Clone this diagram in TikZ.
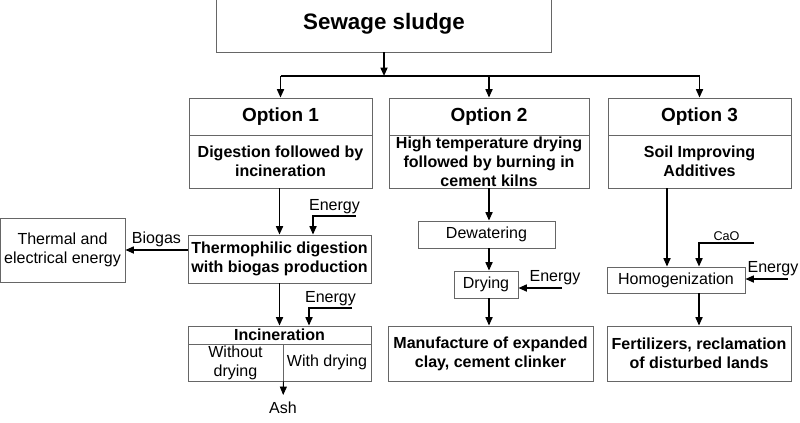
\documentclass[tikz,border=0pt]{standalone}
\usepackage{fontspec}
\setmainfont{Liberation Sans}
\usetikzlibrary{arrows.meta}

\begin{document}
\begin{tikzpicture}[
  x=0.025cm, y=-0.025cm,
  box/.style={draw=black!60, line width=0.6pt, inner sep=1pt, align=center, font=\fontsize{11.4}{13.5}\selectfont},
  bold box/.style={box, font=\fontsize{11.4}{13.5}\selectfont\bfseries},
  flow/.style={-{Triangle[length=6pt,width=5pt]}, line width=1.1pt},
  ]
  \tikzset{%
    tag/.style={
      inner sep=1pt,
      font=\fontsize{11.4}{13.5}\selectfont,
    },
  }
  \useasboundingbox (0,0) rectangle (800,422);
  %Nodes
  \node[bold box, minimum width=8.375cm, minimum height=1.425cm, font=\fontsize{15.9}{18}\selectfont\bfseries](sludge) at (384,23.5) {Sewage sludge};
  \node[bold box, minimum width=4.575cm, minimum height=0.925cm, font=\fontsize{13.5}{15}\selectfont\bfseries](opt1t) at (280.5,116.5) {Option 1};
  \node[bold box, minimum width=4.575cm, minimum height=1.325cm](opt1b) at (280.5,161.5) {Digestion followed by\\incineration};
  \node[bold box, minimum width=5cm, minimum height=0.925cm, font=\fontsize{13.5}{15}\selectfont\bfseries](opt2t) at (489,116.5) {Option 2};
  \node[bold box, minimum width=5cm, minimum height=1.325cm, inner ysep=0pt](opt2b) at (489,161.5) {High temperature drying\\followed by burning in\\cement kilns};
  \node[bold box, minimum width=4.575cm, minimum height=0.925cm, font=\fontsize{13.5}{15}\selectfont\bfseries](opt3t) at (699.5,116.5) {Option 3};
  \node[bold box, minimum width=4.575cm, minimum height=1.325cm](opt3b) at (699.5,161.5) {Soil Improving\\Additives};
  % Option 1
  \node[bold box, minimum width=4.575cm, minimum height=1.2cm](thermo) at (279.5,259) {Thermophilic digestion\\with biogas production};
  \node[box, minimum width=3.125cm, minimum height=1.6cm](thermal) at (62.5,250) {Thermal and\\electrical energy};
  \node[bold box, minimum width=4.575cm, minimum height=0.45cm](incin) at (279.5,335) {Incineration};
  \node[box, minimum width=2.375cm, minimum height=0.925cm](nodry) at (235.5,362.5) {Without\\drying};
  \node[box, minimum width=2.2cm, minimum height=0.925cm](withdry) at (327,362.5) {With drying};
  \node[tag, inner sep=4.5pt](ash) at (283,407.5) {Ash};
  % Option 2
  \node[box, minimum width=3.425cm, minimum height=0.675cm](dewater) at (486.5,234.5) {Dewatering};
  \node[box, minimum width=1.6cm, minimum height=0.675cm](drying) at (486,284.5) {Drying};
  \node[bold box, minimum width=5.125cm, minimum height=1.375cm](manuf) at (490.5,353.5) {Manufacture of expanded\\clay, cement clinker};
  % Option 3
  \node[box, minimum width=3.45cm, minimum height=0.65cm](homog) at (676,280) {Homogenization};
  \node[bold box, minimum width=4.6cm, minimum height=1.375cm](fert) at (699,353.5) {Fertilizers, reclamation\\of disturbed lands};
  % Inputs
  \coordinate (split) at (384,76);
  \coordinate (e1) at (356,216);
  \coordinate (e2) at (352,308);
  \coordinate (e3) at (562,288);
  \coordinate (cao) at (754,243);
  \coordinate (e4) at (788,279);
  \node[tag](e3txt) at (555,278) {Energy};
  \node[tag](e4txt) at (773,269) {Energy};
  %Lines
  \draw[flow] (sludge) -- (split);
  \draw[line width=1.1pt] (opt1t.north |- split) -- (opt3t.north |- split);
  \draw[flow] (opt1t.north |- split) -- (opt1t.north);
  \draw[flow] (opt2t.north |- split) -- (opt2t.north);
  \draw[flow] (opt3t.north |- split) -- (opt3t.north);
  % Option 1
  \draw[flow] (thermo.north |- opt1b.south) -- (thermo.north);
  \draw[flow] (e1) -| node[tag, above, pos=0.25]{Energy} ([xshift=0.8375cm]thermo.north);
  \draw[flow] (thermal.east -| thermo.west) -- node[tag, above, inner sep=2pt]{Biogas} (thermal.east);
  \draw[flow] (incin.north |- thermo.south) -- (incin.north);
  \draw[flow] (e2) -| node[tag, above, pos=0.25]{Energy} ([xshift=0.7375cm]incin.north);
  \draw[flow, line width=0.6pt] (nodry.south east) -- (ash);
  % Option 2
  \draw[flow] (opt2b.south) -- (opt2b.south |- dewater.north);
  \draw[flow] (opt2b.south |- dewater.south) -- (opt2b.south |- drying.north);
  \draw[flow] (e3) -- (e3 -| drying.east);
  \draw[flow] (opt2b.south |- drying.south) -- (opt2b.south |- manuf.north);
  % Option 3
  \draw[flow] ([xshift=-0.225cm]homog.north |- opt3b.south) -- ([xshift=-0.225cm]homog.north);
  \draw[flow] (cao) -| node[tag, above, pos=0.25, font=\fontsize{9}{10}\selectfont]{CaO} ([xshift=0.575cm]homog.north);
  \draw[flow] (e4) -- (e4 -| homog.east);
  \draw[flow] (fert.north |- homog.south) -- (fert.north);
\end{tikzpicture}
\end{document}
